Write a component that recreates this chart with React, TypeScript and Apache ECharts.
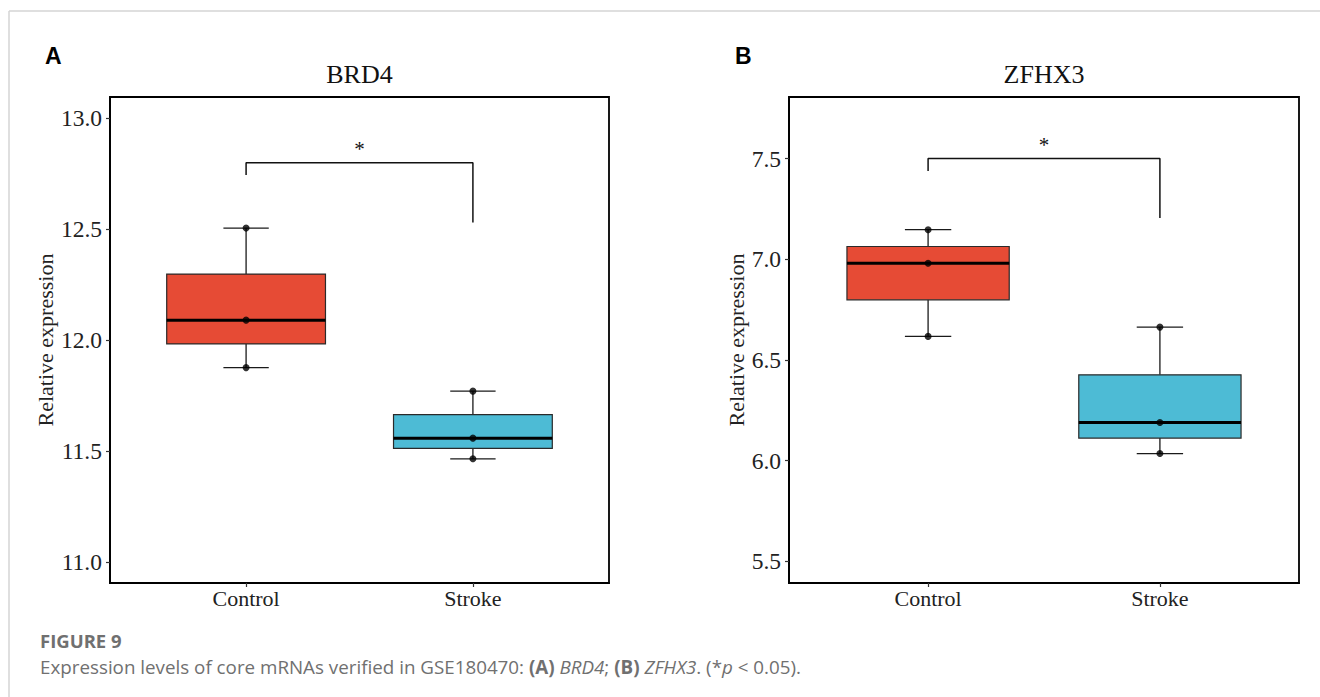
import React, { useEffect, useRef } from "react";
import * as echarts from "echarts";

// ---- data ----
const categories = ["Control", "Stroke"];
const brd4Control = [11.876, 12.09, 12.505];
const brd4Stroke = [11.465, 11.558, 11.77];
const zfhx3Control = [6.617, 6.98, 7.147];
const zfhx3Stroke = [6.035, 6.189, 6.663];
const yTicksA = [11.0, 11.5, 12.0, 12.5, 13.0];
const yTicksB = [5.5, 6.0, 6.5, 7.0, 7.5];
const yRangeA = [10.905, 13.096];
const yRangeB = [5.392, 7.806];
// bracket: [left leg end, bar height, right leg end]
const brd4Bracket = [12.744, 12.8, 12.53];
const zfhx3Bracket = [7.438, 7.5, 7.205];
const brd4Star = 12.86;
const zfhx3Star = 7.57;
const panelTitles = ["BRD4", "ZFHX3"];
const panelLetters = ["A", "B"];
const boxColors = ["#E64B35", "#4DBBD5"];

function quantile(sorted: number[], p: number) {
  const h = (sorted.length - 1) * p;
  const lo = Math.floor(h);
  const hi = Math.min(lo + 1, sorted.length - 1);
  return sorted[lo] + (h - lo) * (sorted[hi] - sorted[lo]);
}
function boxStats(vals: number[], idx: number) {
  const s = [...vals].sort((a, b) => a - b);
  return [idx, s[0], quantile(s, 0.25), quantile(s, 0.5), quantile(s, 0.75), s[s.length - 1]];
}

const SERIF = "'Liberation Serif', 'Times New Roman', serif";
const CAPTION_FONT = "'Open Sans', sans-serif";
const CAPTION_COLOR = "#707070";

function renderBox(params: any, api: any) {
  const x = api.value(0);
  const v = [1, 2, 3, 4, 5].map((i) => api.value(i));
  const p = v.map((val) => api.coord([x, val]));
  const cx = p[0][0];
  const halfBox = api.size([0.35, 0])[0];
  const halfCap = api.size([0.1, 0])[0];
  const color = boxColors[params.dataIndex % boxColors.length];
  const lineStyle = { stroke: "#1a1a1a", lineWidth: 1.3 };
  return {
    type: "group",
    children: [
      { type: "line", shape: { x1: cx, y1: p[4][1], x2: cx, y2: p[3][1] }, style: lineStyle },
      { type: "line", shape: { x1: cx, y1: p[1][1], x2: cx, y2: p[0][1] }, style: lineStyle },
      { type: "line", shape: { x1: cx - halfCap, y1: p[4][1], x2: cx + halfCap, y2: p[4][1] }, style: lineStyle },
      { type: "line", shape: { x1: cx - halfCap, y1: p[0][1], x2: cx + halfCap, y2: p[0][1] }, style: lineStyle },
      {
        type: "rect",
        shape: { x: cx - halfBox, y: p[3][1], width: halfBox * 2, height: p[1][1] - p[3][1] },
        style: { fill: color, stroke: "#2a2a2a", lineWidth: 1.2 },
      },
      {
        type: "line",
        shape: { x1: cx - halfBox, y1: p[2][1], x2: cx + halfBox, y2: p[2][1] },
        style: { stroke: "#000", lineWidth: 3 },
      },
    ],
  };
}

function renderStar(params: any, api: any) {
  const pt = api.coord([api.value(0), api.value(1)]);
  return {
    type: "text",
    x: pt[0],
    y: pt[1],
    style: {
      text: "*",
      fontSize: 21,
      fontFamily: SERIF,
      align: "center",
      verticalAlign: "middle",
      textAlign: "center",
      textVerticalAlign: "middle",
      fill: "#111",
    },
  };
}

function panelSeries(idx: number, ctrl: number[], strk: number[], bracket: number[], star: number) {
  return [
    {
      type: "custom",
      xAxisIndex: idx,
      yAxisIndex: idx,
      renderItem: renderBox,
      data: [boxStats(ctrl, 1), boxStats(strk, 2)],
      z: 2,
      silent: true,
    },
    {
      type: "scatter",
      xAxisIndex: idx,
      yAxisIndex: idx,
      data: [...ctrl.map((v) => [1, v]), ...strk.map((v) => [2, v])],
      symbolSize: 7,
      itemStyle: { color: "#000" },
      z: 3,
      silent: true,
    },
    {
      type: "line",
      xAxisIndex: idx,
      yAxisIndex: idx,
      data: [
        [1, bracket[0]],
        [1, bracket[1]],
        [2, bracket[1]],
        [2, bracket[2]],
      ],
      symbol: "none",
      lineStyle: { color: "#111", width: 1.5 },
      z: 3,
      silent: true,
    },
    {
      type: "custom",
      xAxisIndex: idx,
      yAxisIndex: idx,
      renderItem: renderStar,
      data: [[1.5, star]],
      z: 3,
      silent: true,
    },
  ];
}

function xAxisDef(gridIndex: number) {
  return {
    type: "value",
    gridIndex,
    min: 0.4,
    max: 2.6,
    splitLine: { show: false },
    axisLine: { show: true, lineStyle: { color: "#000", width: 1.8 } },
    axisTick: { show: true, length: 4, customValues: [1, 2], lineStyle: { color: "#333", width: 1.2 } },
    axisLabel: {
      customValues: [1, 2],
      formatter: (v: number) => categories[Math.round(v) - 1] ?? "",
      fontFamily: SERIF,
      fontSize: 22,
      color: "#222",
      margin: 4,
    },
  };
}

function yAxisDef(gridIndex: number, range: number[], ticks: number[], nameGap: number) {
  return {
    type: "value",
    gridIndex,
    min: range[0],
    max: range[1],
    name: "Relative expression",
    nameLocation: "middle",
    nameRotate: 90,
    nameGap,
    nameTextStyle: { fontFamily: SERIF, fontSize: 22, color: "#222" },
    splitLine: { show: false },
    axisLine: { show: true, lineStyle: { color: "#000", width: 1.8 } },
    axisTick: { show: true, length: 4, customValues: ticks, lineStyle: { color: "#333", width: 1.2 } },
    axisLabel: {
      customValues: ticks,
      formatter: (v: number) => v.toFixed(1),
      fontFamily: SERIF,
      fontSize: 23.5,
      color: "#222",
      margin: 8,
    },
  };
}

export default function App() {
  const ref = useRef<HTMLDivElement>(null);
  useEffect(() => {
    if (!ref.current) return;
    const chart = echarts.init(ref.current, null, { renderer: "svg" });
    const grids = [
      { left: 110, top: 97, width: 499, height: 486 },
      { left: 789, top: 97, width: 510, height: 486 },
    ];
    const titleCenters = [359.5, 1044];
    const letterX = [45, 735];
    const graphic: any[] = [
      { type: "line", shape: { x1: 9, y1: 11, x2: 1320, y2: 11 }, style: { stroke: "#d4d4d4", lineWidth: 1.5 }, silent: true },
      { type: "line", shape: { x1: 9, y1: 11, x2: 9, y2: 697 }, style: { stroke: "#d4d4d4", lineWidth: 1.5 }, silent: true },
    ];
    panelTitles.forEach((t, i) => {
      graphic.push({
        type: "text",
        x: titleCenters[i],
        y: 74.5,
        silent: true,
        style: {
          text: t,
          fontFamily: SERIF,
          fontSize: 26,
          fill: "#111",
          align: "center",
          verticalAlign: "middle",
          textAlign: "center",
          textVerticalAlign: "middle",
        },
      });
      graphic.push({
        type: "text",
        x: letterX[i],
        y: 56,
        silent: true,
        style: {
          text: panelLetters[i],
          fontFamily: "'Liberation Sans', Arial, sans-serif",
          fontWeight: "bold",
          fontSize: 23,
          fill: "#000",
          align: "left",
          verticalAlign: "middle",
          textAlign: "left",
          textVerticalAlign: "middle",
        },
      });
    });
    graphic.push({
      type: "text",
      x: 40,
      y: 640,
      silent: true,
      style: {
        text: "FIGURE 9",
        fontFamily: CAPTION_FONT,
        fontWeight: "bold",
        fontSize: 18.5,
        lineHeight: 18,
        fill: CAPTION_COLOR,
        align: "left",
        verticalAlign: "middle",
        textAlign: "left",
        textVerticalAlign: "middle",
      },
    });
    graphic.push({
      type: "text",
      x: 40,
      y: 666.5,
      silent: true,
      style: {
        text:
          "Expression levels of core mRNAs verified in GSE180470: {b|(A)} {i|BRD4}; {b|(B)} {i|ZFHX3}. (*{i|p} < 0.05).",
        fontFamily: CAPTION_FONT,
        fontSize: 18.8,
        lineHeight: 19,
        fill: CAPTION_COLOR,
        align: "left",
        verticalAlign: "middle",
        textAlign: "left",
        textVerticalAlign: "middle",
        rich: {
          b: { fontFamily: CAPTION_FONT, fontSize: 18.8, lineHeight: 19, fontWeight: "bold", fill: CAPTION_COLOR, color: CAPTION_COLOR },
          i: { fontFamily: CAPTION_FONT, fontSize: 18.8, lineHeight: 19, fontStyle: "italic", fill: CAPTION_COLOR, color: CAPTION_COLOR },
        },
      },
    });

    chart.setOption({
      animation: false,
      grid: grids.map((g) => ({ ...g, show: true, borderColor: "#000", borderWidth: 1.8, backgroundColor: "transparent" })),
      xAxis: [xAxisDef(0), xAxisDef(1)],
      yAxis: [yAxisDef(0, yRangeA, yTicksA, 50), yAxisDef(1, yRangeB, yTicksB, 38.5)],
      series: [
        ...panelSeries(0, brd4Control, brd4Stroke, brd4Bracket, brd4Star),
        ...panelSeries(1, zfhx3Control, zfhx3Stroke, zfhx3Bracket, zfhx3Star),
      ],
      graphic,
    });
    return () => chart.dispose();
  }, []);
  return (
    <div
      ref={ref}
      style={{ position: "fixed", left: 0, top: 0, width: 1320, height: 697, background: "#fff" }}
    />
  );
}
